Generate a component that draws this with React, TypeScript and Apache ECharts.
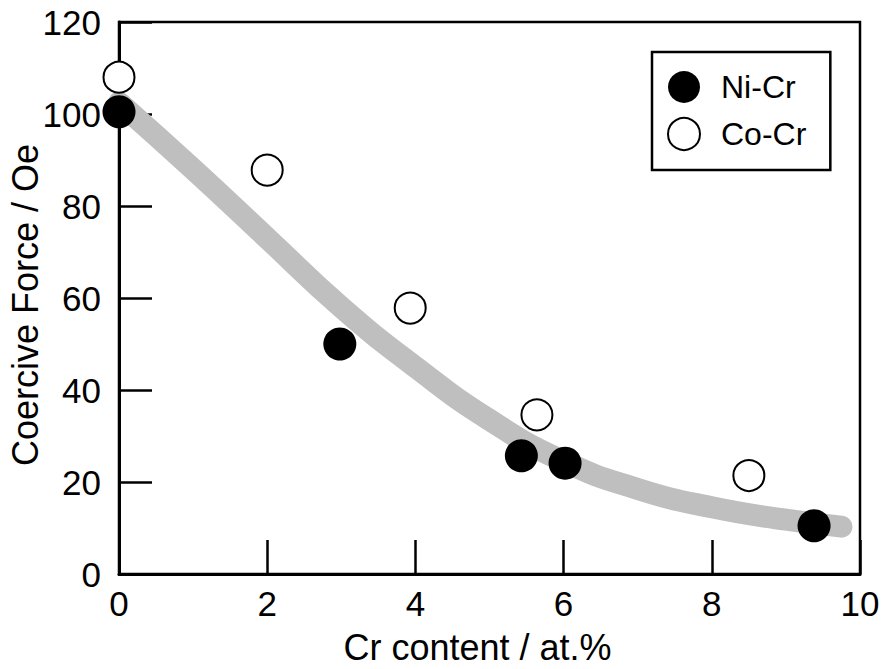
import React, { useEffect, useRef } from "react";
import * as echarts from "echarts";

const niCr: [number, number][] = [
  [0, 100.5],
  [2.98, 50],
  [5.43, 25.7],
  [6.02, 24.1],
  [9.38, 10.5],
];

const coCr: [number, number][] = [
  [0, 108],
  [2.0, 87.8],
  [3.93, 57.8],
  [5.64, 34.6],
  [8.5, 21.4],
];

const fitCurve: [number, number][] = [
  [0, 102.5],
  [1, 88],
  [2, 73],
  [3, 58],
  [4, 45],
  [5, 33.5],
  [6, 24.5],
  [7, 18.5],
  [8, 14.5],
  [9, 11.8],
  [9.75, 10.3],
];

const xTicks = [0, 2, 4, 6, 8, 10];
const yTicks = [0, 20, 40, 60, 80, 100, 120];

const FONT = "'Liberation Sans', Arial, Helvetica, sans-serif";

export default function App() {
  const ref = useRef<HTMLDivElement>(null);

  useEffect(() => {
    if (!ref.current) return;
    const chart = echarts.init(ref.current, undefined, { renderer: "svg" });
    chart.setOption({
      animation: false,
      backgroundColor: "#fff",
      textStyle: { fontFamily: FONT, color: "#000" },
      grid: {
        left: 119,
        right: 21,
        top: 22,
        bottom: 95,
        containLabel: false,
        outerBoundsMode: "none",
        show: true,
        borderColor: "#000",
        borderWidth: 2.5,
        backgroundColor: "transparent",
      },
      legend: {
        data: ["Ni-Cr", "Co-Cr"],
        orient: "vertical",
        left: 652,
        top: 52,
        padding: [19, 24, 19, 15],
        itemWidth: 32,
        itemHeight: 32,
        itemGap: 14,
        icon: "circle",
        borderColor: "#000",
        borderWidth: 2.5,
        textStyle: {
          fontFamily: FONT,
          fontSize: 32,
          color: "#000",
          padding: [0, 0, 0, 16],
        },
      },
      xAxis: {
        type: "value",
        min: xTicks[0],
        max: xTicks[xTicks.length - 1],
        interval: 2,
        name: "Cr content / at.%",
        nameLocation: "middle",
        nameGap: 55,
        nameMoveOverlap: false,
        nameTextStyle: {
          fontFamily: FONT,
          fontSize: 36,
          color: "#000",
          padding: [0, 24, 0, 0],
        },
        axisLine: { show: true, lineStyle: { color: "#000", width: 3 } },
        axisTick: {
          show: true,
          inside: true,
          length: 34,
          lineStyle: { color: "#000", width: 2.5 },
        },
        axisLabel: {
          fontFamily: FONT,
          fontSize: 35,
          color: "#000",
          margin: 12,
        },
        splitLine: { show: false },
      },
      yAxis: {
        type: "value",
        min: yTicks[0],
        max: yTicks[yTicks.length - 1],
        interval: 20,
        name: "Coercive Force / Oe",
        nameLocation: "middle",
        nameGap: 76,
        nameMoveOverlap: false,
        nameTextStyle: {
          fontFamily: FONT,
          fontSize: 36,
          color: "#000",
          padding: [0, 14, 0, 0],
        },
        axisLine: { show: true, lineStyle: { color: "#000", width: 3 } },
        axisTick: {
          show: true,
          inside: true,
          length: 33,
          lineStyle: { color: "#000", width: 2.5 },
        },
        axisLabel: {
          fontFamily: FONT,
          fontSize: 35,
          color: "#000",
          margin: 18,
        },
        splitLine: { show: false },
      },
      series: [
        {
          name: "fit",
          type: "line",
          data: fitCurve,
          smooth: true,
          showSymbol: false,
          symbol: "none",
          clip: false,
          z: 1,
          lineStyle: { color: "#bfbfbf", width: 22, cap: "round", join: "round" },
          silent: true,
        },
        {
          name: "Co-Cr",
          type: "scatter",
          data: coCr,
          symbol: "circle",
          symbolSize: 31,
          clip: false,
          z: 3,
          itemStyle: { color: "#fff", borderColor: "#000", borderWidth: 2, opacity: 1 },
        },
        {
          name: "Ni-Cr",
          type: "scatter",
          data: niCr,
          symbol: "circle",
          symbolSize: 33,
          clip: false,
          z: 4,
          itemStyle: { color: "#000", opacity: 1 },
        },
      ],
    });
    return () => chart.dispose();
  }, []);

  return <div ref={ref} style={{ width: 881, height: 669, position: "absolute", left: 0, top: 0 }} />;
}
